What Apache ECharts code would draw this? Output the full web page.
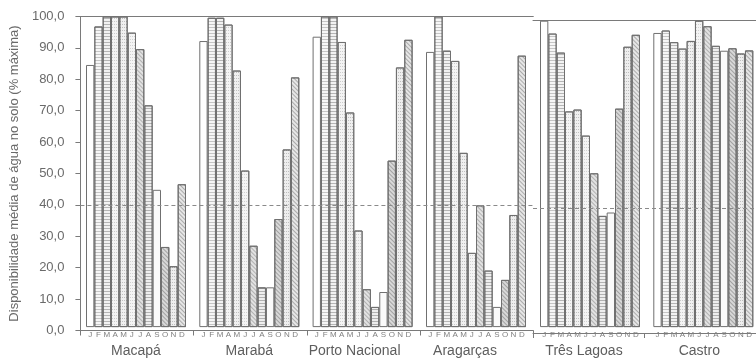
<!DOCTYPE html>
<html>
<head>
<meta charset="utf-8">
<style>
  html, body { margin: 0; padding: 0; background: #ffffff; }
  #chart { width: 756px; height: 363px; }
</style>
<script src="https://cdn.jsdelivr.net/npm/echarts@6/dist/echarts.min.js"></script>
</head>
<body>
<div id="chart"></div>
<script>
// ---- data ----
const months = ['J', 'F', 'M', 'A', 'M', 'J', 'J', 'A', 'S', 'O', 'N', 'D'];
const locations = ['Macapá', 'Marabá', 'Porto Nacional', 'Aragarças', 'Três Lagoas', 'Castro'];
const macapa        = [84.4, 96.8, 100, 100, 100, 94.8, 89.5, 71.4, 44.2, 25.8, 19.6, 46.0];
const maraba        = [92.1, 99.6, 99.6, 97.4, 82.6, 50.4, 26.2, 12.8, 12.8, 34.8, 57.2, 80.4];
const portoNacional = [93.5, 100, 100, 91.8, 69.1, 31.1, 12.2, 6.5, 11.3, 53.6, 83.6, 92.5];
const aragarcas     = [88.6, 100, 89.0, 85.7, 56.1, 23.9, 39.2, 18.2, 6.5, 15.2, 36.1, 87.4];
const tresLagoas    = [100, 95.8, 89.6, 70.4, 71.0, 62.5, 50.2, 36.3, 37.4, 71.3, 91.5, 95.4];
const castro        = [96.0, 96.8, 93.0, 90.9, 93.4, 100, 98.2, 91.8, 90.2, 91.0, 89.3, 90.3];
const referenceLevel = 40;
const yTickValues = [0, 10, 20, 30, 40, 50, 60, 70, 80, 90, 100];
const yAxisTitle = 'Disponibilidade média de água no solo (% máxima)';

const groupValues = [macapa, maraba, portoNacional, aragarcas, tresLagoas, castro];

// ---- styles / layout (not data) ----
const FONT = 'Liberation Sans, Arial, sans-serif';
const LINE = '#7a7a7a';
const TEXT = '#6a6a6a';
const hLines = (c) => ({ symbol: 'rect', symbolSize: 1, dashArrayX: [1, 0], dashArrayY: [1, 2], rotation: 0, color: c });
const diag   = (c) => ({ symbol: 'rect', symbolSize: 1, dashArrayX: [1, 0], dashArrayY: [1, 2], rotation: Math.PI / 4, color: c });
const dots   = (c) => ({ symbol: 'rect', symbolSize: 1, dashArrayX: [1, 1], dashArrayY: [1, 2], rotation: 0, color: c });
const monthStyles = [
  { color: '#ffffff' },
  { color: '#f6f6f6', decal: hLines('rgba(0,0,0,0.2)') },
  { color: '#f2f2f2', decal: hLines('rgba(0,0,0,0.25)') },
  { color: '#f4f4f4', decal: dots('rgba(0,0,0,0.16)') },
  { color: '#f0f0f0', decal: dots('rgba(0,0,0,0.2)') },
  { color: '#f4f4f4', decal: dots('rgba(0,0,0,0.14)') },
  { color: '#e2e2e2', decal: diag('rgba(0,0,0,0.22)') },
  { color: '#eeeeee', decal: hLines('rgba(0,0,0,0.25)') },
  { color: '#fafafa' },
  { color: '#d8d8d8', decal: diag('rgba(0,0,0,0.25)') },
  { color: '#eeeeee', decal: dots('rgba(0,0,0,0.2)') },
  { color: '#e6e6e6', decal: diag('rgba(0,0,0,0.26)') }
];

const panelTop = [16.5, 20.7];
const panelBottom = [32.5, 30];
const groupPanel = [0, 0, 0, 0, 1, 1];
const groupLeft = [86, 199.3, 312.6, 426, 540, 653.3];
const groupWidth = 100;
const nameShift = [0, 0, 8, 11, 6, 4];

const fmt = (v) => v.toFixed(1).replace('.', ',');

const grids = [
  { left: 80, top: panelTop[0], width: 453.3, bottom: panelBottom[0] },
  { left: 533, top: panelTop[1], width: 226.7, bottom: panelBottom[1] }
];
groupLeft.forEach((l, g) => {
  grids.push({ left: l, width: groupWidth, top: panelTop[groupPanel[g]], bottom: panelBottom[groupPanel[g]] });
});

const frameX = (gridIndex, max, position) => ({
  type: 'value', gridIndex, min: 0, max, interval: 1, position,
  axisLine: { show: true, lineStyle: { color: LINE, width: 1 } },
  axisTick: { show: position === 'bottom', length: 5, lineStyle: { color: LINE } },
  axisLabel: { show: false }, splitLine: { show: false }
});

const xAxes = [
  frameX(0, 4, 'bottom'), frameX(0, 4, 'top'),
  frameX(1, 2, 'bottom'), frameX(1, 2, 'top')
];
const yAxes = [
  {
    type: 'value', gridIndex: 0, min: 0, max: 100, interval: 10,
    axisLine: { show: true, lineStyle: { color: LINE } },
    axisTick: { show: true, length: 5, lineStyle: { color: LINE } },
    axisLabel: {
      margin: 16, color: TEXT, fontFamily: FONT, fontSize: 13,
      customValues: yTickValues, formatter: (v) => fmt(v)
    },
    splitLine: { show: false },
    name: yAxisTitle, nameLocation: 'middle', nameGap: 55,
    nameTextStyle: { color: TEXT, fontFamily: FONT, fontSize: 13 }
  },
  { type: 'value', gridIndex: 1, min: 0, max: 100, show: false }
];

const series = [];
groupValues.forEach((vals, g) => {
  xAxes.push({
    type: 'category', gridIndex: g + 2, data: months,
    axisLine: { show: false }, axisTick: { show: false },
    axisLabel: { interval: 0, fontSize: 8, color: '#808080', fontFamily: FONT, margin: 4 },
    name: locations[g], nameLocation: 'middle', nameGap: 14,
    nameTextStyle: { fontSize: 14, color: '#5e5e5e', fontFamily: FONT, padding: [0, nameShift[g] * 2, 0, 0] }
  });
  yAxes.push({ type: 'value', gridIndex: g + 2, min: 0, max: 100, show: false });
  series.push({
    type: 'bar', xAxisIndex: g + 4, yAxisIndex: g + 2,
    barCategoryGap: '0%', barGap: '0%',
    itemStyle: { borderColor: '#707070', borderWidth: 1 },
    data: vals.map((v, i) => ({ value: v, itemStyle: monthStyles[i] })),
    silent: true, animation: false
  });
});

[[0, 0], [2, 1]].forEach(([xi, yi]) => {
  series.push({
    type: 'line', xAxisIndex: xi, yAxisIndex: yi, data: [], z: 10, silent: true,
    markLine: {
      silent: true, symbol: 'none', animation: false,
      label: { show: false },
      lineStyle: { type: [4, 3], color: '#8a8a8a', width: 1 },
      data: [{ yAxis: referenceLevel }]
    }
  });
});

const chart = echarts.init(document.getElementById('chart'), null, { renderer: 'canvas' });
chart.setOption({
  backgroundColor: '#ffffff',
  animation: false,
  textStyle: { fontFamily: FONT },
  grid: grids,
  xAxis: xAxes,
  yAxis: yAxes,
  series
});
</script>
</body>
</html>
